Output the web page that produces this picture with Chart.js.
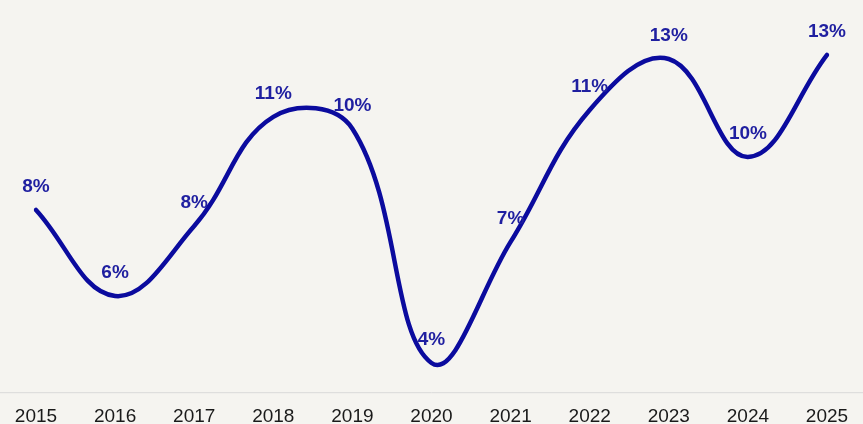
<html>
<head>
<meta charset="utf-8">
<script src="https://cdn.jsdelivr.net/npm/chart.js@4.4.0/dist/chart.umd.min.js"></script>
<style>
html, body { margin:0; padding:0; background:#f5f4f0; }
#wrap { width:863px; height:424px; }
</style>
</head>
<body>
<div id="wrap"><canvas id="chart1"></canvas></div>
<script>
// chart data
var years = ["2015","2016","2017","2018","2019","2020","2021","2022","2023","2024","2025"];
var growth = [8.06, 5.53, 7.59, 10.8, 10.45, 3.56, 7.12, 11.0, 12.5, 9.62, 12.62];
var yMin = 2.7;
var yMax = 14;

// background + full width baseline
var bgPlugin = {
  id: "bg",
  beforeDraw: function(chart) {
    var ctx = chart.ctx;
    ctx.save();
    ctx.fillStyle = "#f5f4f0";
    ctx.fillRect(0, 0, chart.width, chart.height);
    ctx.strokeStyle = "#d9d9d9";
    ctx.lineWidth = 1;
    ctx.beginPath();
    ctx.moveTo(0, chart.chartArea.bottom + 0.5);
    ctx.lineTo(chart.width, chart.chartArea.bottom + 0.5);
    ctx.stroke();
    ctx.restore();
  }
};

// percent labels above the points
var labelPlugin = {
  id: "pctLabels",
  afterDatasetsDraw: function(chart) {
    var ctx = chart.ctx;
    var meta = chart.getDatasetMeta(0);
    ctx.save();
    ctx.font = "bold 19px 'Liberation Sans', Arial, sans-serif";
    ctx.fillStyle = "#1f1fa0";
    ctx.textAlign = "center";
    ctx.textBaseline = "middle";
    meta.data.forEach(function(pt, i) {
      ctx.fillText(Math.round(growth[i]) + "%", pt.x, pt.y - 23);
    });
    ctx.restore();
  }
};

new Chart(document.getElementById("chart1"), {
  type: "line",
  data: {
    labels: years,
    datasets: [{
      data: growth,
      borderColor: "#0b0b9e",
      borderWidth: 4.5,
      borderCapStyle: "round",
      tension: 0.4,
      pointRadius: 0,
      fill: false
    }]
  },
  options: {
    responsive: true,
    maintainAspectRatio: false,
    animation: false,
    layout: { padding: { left: 36, right: 36, top: 8, bottom: -17 } },
    plugins: { legend: { display: false }, tooltip: { enabled: false } },
    scales: {
      x: {
        offset: false,
        grid: { display: false, drawTicks: false },
        border: { display: false },
        ticks: {
          color: "#1a1a1a",
          padding: 13,
          font: { family: "'Liberation Sans', Arial, sans-serif", size: 19 }
        }
      },
      y: {
        display: false,
        min: yMin,
        max: yMax
      }
    }
  },
  plugins: [bgPlugin, labelPlugin]
});
</script>
</body>
</html>
